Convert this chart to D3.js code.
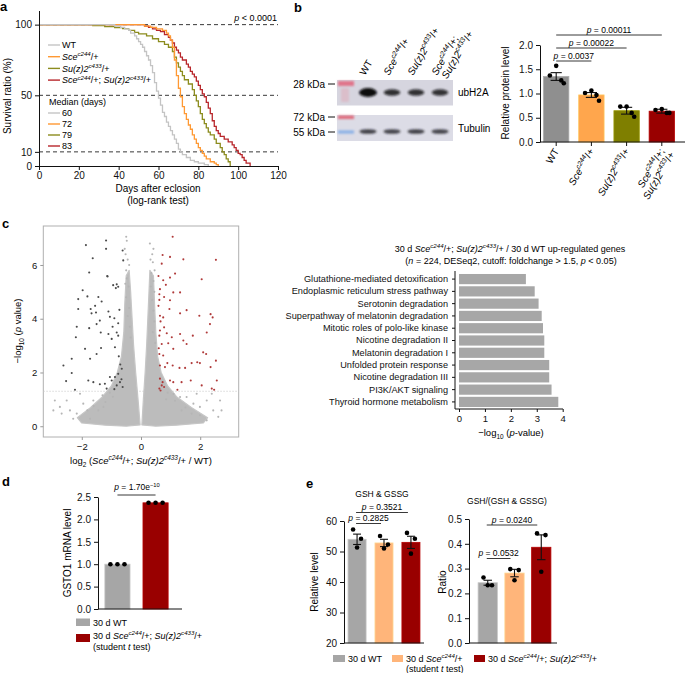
<!DOCTYPE html>
<html>
<head>
<meta charset="utf-8">
<script src="https://cdnjs.cloudflare.com/ajax/libs/d3/7.8.5/d3.min.js"></script>
<style>
body { margin: 0; background: #fff; }
svg { font-family: "Liberation Sans", Arial, Helvetica, sans-serif; }
</style>
</head>
<body>
<svg id="fig" width="685" height="673"></svg>
<script>
// ---- data ----
var SCE = [['Sce', 'i'], ['c244', 'isup'], ['/+']],
    SU = [['Su(z)2', 'i'], ['c433', 'isup'], ['/+']],
    SCESU = [['Sce', 'i'], ['c244', 'isup'], ['/+; '], ['Su(z)2', 'i'], ['c433', 'isup'], ['/+']];

var survivalWT = [[0,100],[38,99],[41,98],[43,97],[45,96],[46,94],[48,92],[49,90],[50,88],[51,86],[52,84],[53,81],[54,78],[55,75],[56,71],[57,66],[58,59],[59,53],[60,48],[61,43],[62,38],[63,35],[64,31],[65,28],[66,25],[67,22],[68,19],[69,16],[70,12],[71,10],[72,8],[74,6],[76,4],[78,3],[80,2],[83,1],[85,0]];
var survivalSce = [[0,100],[53,99],[56,98],[59,97],[62,96],[64,94],[65,92],[66,89],[67,84],[68,75],[69,64],[70,55],[71,49],[72,42],[73,37],[74,33],[75,29],[76,26],[77,22],[78,19],[79,16],[80,13],[81,11],[82,9],[83,7],[84,5],[86,3],[88,2],[89,1],[90,0]];
var survivalSu = [[0,100],[27,99.3],[33,98.6],[38,97.9],[42,97.2],[45,96],[48,94.5],[50,93.5],[54,92],[57,90],[60,88],[63,86],[65,84],[67,81],[68,77],[69,73],[70,70],[71,67],[72,64],[73,61],[75,58],[77,54],[78,50],[79,46],[80,42],[81,37],[82,33],[83,30],[84,27],[85,24],[86,22],[88,19],[89,16],[91,13],[92,10],[93,8],[94,5],[95,3],[96,0]];
var survivalSceSu = [[0,100],[53,99],[55,98],[57,97],[59,96],[61,95],[63,93],[65,91],[66,89],[67,87],[68,84],[69,82],[70,80],[71,77],[72,75],[74,72],[75,70],[76,67],[77,65],[78,63],[79,60],[80,57],[81,54],[82,51],[83,49],[84,45],[85,41],[86,37],[87,32],[88,28],[89,25],[90,23],[91,21],[93,19],[95,17],[97,15],[98,13],[99,11],[100,9],[101,8],[102,6],[103,4],[104,2],[106,0]];
var survivalMedians = [60, 72, 79, 83];
var survivalRefLines = [100, 50, 10];

var blotLanes = ['WT', 'Sce', 'Su', 'SceSu'];
var ubh2aSignal = [1.0, 0.62, 0.6, 0.58];
var tubulinSignal = [0.8, 0.78, 0.8, 0.78];

var proteinMeans = [1.35, 0.97, 0.645, 0.635];
var proteinSem = [0.08, 0.05, 0.07, 0.04];
var proteinPoints = [[1.57, 1.37, 1.27, 1.21], [1.06, 1.01, 0.97, 0.85], [0.73, 0.73, 0.60, 0.52], [0.68, 0.66, 0.60, 0.60]];
var proteinPvals = [['0.0037', 1], ['0.00022', 2], ['0.00011', 3]];

var volcanoDown = [[-1.86,6.74],[-1.18,6.91],[-1.18,6.60],[-1.63,6.25],[-0.62,6.54],[-0.6,6.17],[-1.13,5.57],[-1.75,5.72],[-1.97,5.06],[-1.81,4.83],[-0.94,5.25],[-1.14,5.59],[-0.82,5.28],[-0.77,5.19],[-0.85,5.14],[-2.12,4.73],[-1.44,4.81],[-1.33,4.64],[-1.55,4.48],[-2.12,4.36],[-1.70,4.36],[-1.52,4.23],[-1.10,4.27],[-0.73,4.33],[-0.90,4.02],[-1.05,4.07],[-1.39,3.93],[-1.67,4.20],[-2.17,3.70],[-1.75,3.65],[-1.50,3.80],[-1.36,3.49],[-0.96,3.70],[-0.77,3.83],[-0.82,3.49],[-0.77,3.37],[-0.99,3.25],[-1.10,3.43],[-0.88,2.94],[-1.35,2.91],[-1.50,2.69],[-1.72,2.51],[-1.89,2.88],[-2.20,3.31],[-2.34,2.51],[-2.62,2.26],[-2.34,1.98],[-2.53,1.68],[-2.23,1.36],[-1.78,1.70],[-1.61,1.64],[-1.39,1.56],[-1.22,1.58],[-1.16,1.40],[-0.99,1.70],[-0.88,1.83],[-0.77,1.95],[-0.71,1.64],[-0.65,2.14],[-0.62,1.46],[-0.82,1.52],[-1.05,1.83],[-0.7,2.3],[-0.75,2.6],[-0.66,1.75],[-0.9,1.38]];
var volcanoUp = [[1.07,7.05],[0.73,6.37],[0.98,6.30],[1.43,6.21],[0.70,6.05],[2.53,6.19],[0.59,5.59],[0.75,5.43],[0.98,5.53],[1.15,5.68],[0.84,5.26],[0.64,5.10],[2.05,5.47],[1.09,4.98],[0.62,4.91],[0.78,4.81],[1.32,4.98],[0.59,4.48],[0.98,4.69],[0.64,4.11],[0.75,4.05],[0.96,4.36],[1.32,4.20],[1.54,4.32],[1.97,4.11],[2.35,4.17],[2.42,4.05],[0.64,3.56],[0.62,3.37],[0.78,3.68],[0.87,3.46],[1.04,3.31],[1.32,3.43],[1.43,3.19],[1.75,3.37],[2.22,3.49],[2.33,3.80],[0.70,3.06],[0.92,3.09],[0.62,2.69],[0.75,2.63],[1.09,2.88],[1.54,3.06],[2.10,2.75],[2.20,2.69],[2.53,2.44],[0.64,2.26],[0.81,2.20],[0.89,2.35],[1.07,2.26],[1.30,2.17],[1.49,2.17],[1.71,2.35],[1.90,2.38],[1.99,2.35],[2.35,2.20],[2.56,1.70],[0.64,1.77],[0.73,1.64],[0.70,1.52],[0.78,1.46],[0.98,1.70],[1.09,1.64],[1.23,1.36],[1.37,1.64],[1.68,1.70],[2.05,1.52],[2.39,1.40],[2.47,1.36],[0.62,1.40],[0.66,1.33],[0.6,2.9],[0.66,3.9],[0.62,4.7]];
var volcanoFlat = [[-0.5,7.05],[-0.48,6.9],[-0.55,6.6],[-0.45,6.2],[-0.5,5.8],[-0.48,5.5],[-0.42,5.2],[-0.5,4.8],[-0.4,4.4],[-0.45,4.1],[-0.38,3.7],[-0.35,3.3],[-0.52,6.4],[-0.4,6.0],[-0.53,5.3],[0.3,6.8],[0.42,6.6],[0.38,6.4],[0.4,6.1],[0.35,5.7],[0.42,5.4],[0.45,5.0],[0.38,4.7],[0.42,4.3],[0.45,3.9],[0.4,3.5],[0.48,3.1],[0.32,6.2],[0.46,5.8],[0.33,5.2],[-2.91,0.96],[-2.96,0.59],[-2.74,0.72],[-2.51,0.96],[-2.40,0.59],[-2.68,0.47],[-2.06,1.21],[-1.95,0.84],[-2.17,0.47],[-1.81,0.59],[-1.61,0.96],[-1.44,0.59],[-1.27,0.72],[-1.72,0.28],[-2.29,0.28],[1.54,1.09],[1.77,0.84],[1.99,0.72],[2.22,0.96],[2.44,0.59],[2.67,0.96],[2.72,0.59],[2.61,0.35],[1.99,0.41],[1.71,0.47],[2.22,0.22],[1.37,0.59],[1.88,1.21],[1.32,1.09],[2.39,1.21],[-1.3,1.15],[-1.05,1.25],[1.1,1.2],[0.9,1.25],[-0.95,1.1],[-1.2,0.9],[-1.6,0.75],[0.85,1.0],[1.15,0.95],[1.5,0.7]];
var volcanoCoreLeft = [[-0.03,0.05],[-0.1,1.0],[-0.18,2.0],[-0.25,3.0],[-0.3,4.0],[-0.35,5.0],[-0.4,5.8],[-0.5,5.6],[-0.55,4.5],[-0.58,3.5],[-0.66,2.6],[-0.8,2.0],[-1.0,1.5],[-1.3,1.1],[-1.7,0.7],[-2.15,0.32],[-2.0,0.12],[-1.2,0.04],[-0.5,0.0]];
var volcanoCoreRight = [[0.03,0.05],[0.08,1.0],[0.14,2.0],[0.19,3.0],[0.23,4.0],[0.27,5.0],[0.3,5.8],[0.42,5.6],[0.46,4.5],[0.5,3.5],[0.56,2.6],[0.68,2.0],[0.9,1.5],[1.2,1.1],[1.7,0.7],[2.25,0.32],[2.1,0.12],[1.2,0.04],[0.5,0.0]];
var volcanoCutoff = -Math.log10(0.05);

var pathways = ['Glutathione-mediated detoxification', 'Endoplasmic reticulum stress pathway', 'Serotonin degradation',
    'Superpathway of melatonin degradation', 'Mitotic roles of polo-like kinase', 'Nicotine degradation II',
    'Melatonin degradation I', 'Unfolded protein response', 'Nicotine degradation III', 'PI3K/AKT signaling',
    'Thyroid hormone metabolism'];
var pathwayLogP = [2.58, 2.92, 3.07, 3.19, 3.24, 3.29, 3.29, 3.48, 3.48, 3.57, 3.83];

var gsto1Means = [1.0, 2.37];
var gsto1Points = [[1.0, 1.0, 1.0], [2.37, 2.37, 2.37]];

var gshMeans = [54.0, 52.8, 53.0];
var gshSem = [1.7, 1.2, 2.0];
var gshPoints = [[57.2, 54.2, 51.3], [55.1, 52.3, 51.0], [56.1, 54.2, 49.3]];
var gshPvals = [['0.2825', 1], ['0.3521', 2]];

var ratioMeans = [0.243, 0.282, 0.386];
var ratioSem = [0.01, 0.015, 0.05];
var ratioPoints = [[0.264, 0.233, 0.233], [0.298, 0.294, 0.253], [0.442, 0.435, 0.287]];
var ratioPvals = [['0.0532', 1], ['0.0240', 2]];

var curveColors = {WT: '#c4c4c4', Sce: '#ff9933', Su: '#8c8c1e', SceSu: '#b8262b'};
var barColors = {WT: '#8f8f8f', Sce: '#ffa64d', Su: '#7f7f00', SceSu: '#990000'};

var svg = d3.select('#fig');

//helpers
function rich(sel, parts, fs) {
    var shift = 0;
    parts.forEach(function (p) {
        var st = p[1] || '',
            ts = sel.append('tspan').text(p[0]),
            target = 0;
        if (st.charAt(0) === 'i') {
            ts.style('font-style', 'italic');
        }
        if (st.indexOf('sup') >= 0) {
            ts.attr('font-size', fs * 0.68);
            target = -fs * 0.4;
        }
        if (st.indexOf('sub') >= 0) {
            ts.attr('font-size', fs * 0.68);
            target = fs * 0.28;
        }
        if (target !== shift) {
            ts.attr('dy', target - shift);
            shift = target;
        }
    });
    return sel;
}

function label(x, y, parts, fs, anchor) {
    var t = svg.append('text').attr('x', x).attr('y', y)
        .attr('font-size', fs).attr('text-anchor', anchor || 'start');
    if (typeof parts === 'string') {
        return t.text(parts);
    }
    return rich(t, parts, fs);
}

function panelLetter(x, y, s) {
    svg.append('text').attr('x', x).attr('y', y).attr('font-size', 13)
        .attr('font-weight', 'bold').text(s);
}

function styleAxis(g, fs) {
    g.selectAll('text').attr('font-size', fs).attr('font-family', null).attr('fill', '#111');
    g.selectAll('line,path').attr('stroke', '#111');
}

function sigBar(x1, x2, y, p, fs) {
    svg.append('line').attr('x1', x1).attr('x2', x2).attr('y1', y).attr('y2', y)
        .attr('stroke', '#222').attr('stroke-width', 0.9);
    label((x1 + x2) / 2, y - 2.5, [['p', 'i'], [' = ' + p]], fs, 'middle');
}

// rotated multi-line genotype labels
function rotLabel(x, y, lines, fs, anchor) {
    var t = svg.append('text').attr('font-size', fs).attr('text-anchor', anchor)
        .attr('transform', 'translate(' + x + ',' + y + ') rotate(-60)');
    lines.forEach(function (ln, k) {
        var part = typeof ln === 'string' ? [[ln]] : ln,
            row = t.append('tspan').attr('x', k * 2).attr('y', k * fs * 1.05);
        rich(row, part, fs);
    });
}

// bar + dots + sem chart used by b, d, e
function barChart(o) {
    var x = d3.scaleBand().domain(d3.range(o.means.length)).range(o.xRange)
            .paddingInner(o.padIn).paddingOuter(o.padOut),
        y = d3.scaleLinear().domain(o.yDomain).range(o.yRange),
        g = svg.append('g'),
        jitter = o.points[0].length === 4 ? [0, -0.25, 0.2, 0.3] : [-0.22, 0.22, 0],
        ax;

    g.selectAll('rect.bar').data(o.means).enter().append('rect')
        .attr('x', function (d, i) { return x(i); })
        .attr('y', function (d) { return y(d); })
        .attr('width', x.bandwidth())
        .attr('height', function (d) { return y(o.yDomain[0]) - y(d); })
        .attr('fill', function (d, i) { return o.colors[i]; })
        .attr('stroke', function (d, i) { return d3.color(o.colors[i]).brighter(0.5); })
        .attr('stroke-width', 0.8);

    if (o.sem) {
        o.sem.forEach(function (s, i) {
            var cx = x(i) + x.bandwidth() / 2, hw = x.bandwidth() * 0.22;
            g.append('line').attr('x1', cx).attr('x2', cx)
                .attr('y1', y(o.means[i] - s)).attr('y2', y(o.means[i] + s))
                .attr('stroke', '#111').attr('stroke-width', 1.1);
            [o.means[i] - s, o.means[i] + s].forEach(function (v) {
                g.append('line').attr('x1', cx - hw).attr('x2', cx + hw)
                    .attr('y1', y(v)).attr('y2', y(v)).attr('stroke', '#111').attr('stroke-width', 1.1);
            });
        });
    }

    o.points.forEach(function (pts, i) {
        g.selectAll(null).data(pts).enter().append('circle')
            .attr('cx', function (d, j) {
                var off = o.sem ? jitter[j] : (j - 1) * 0.28;
                return x(i) + x.bandwidth() * (0.5 + off);
            })
            .attr('cy', function (d) { return y(d); })
            .attr('r', 2.3).attr('fill', '#000');
    });

    ax = g.append('g').attr('transform', 'translate(' + o.xRange[0] + ',0)')
        .call(d3.axisLeft(y).tickValues(o.ticks).tickFormat(d3.format(o.fmt)).tickSize(4).tickSizeOuter(0));
    styleAxis(ax, o.fs);
    g.append('line').attr('x1', o.xRange[0]).attr('x2', o.axisEnd)
        .attr('y1', y(o.yDomain[0])).attr('y2', y(o.yDomain[0])).attr('stroke', '#111');
    if (o.xTicks) {
        d3.range(o.means.length).forEach(function (i) {
            var cx = x(i) + x.bandwidth() / 2;
            g.append('line').attr('x1', cx).attr('x2', cx).attr('y1', y(o.yDomain[0]))
                .attr('y2', y(o.yDomain[0]) + 4).attr('stroke', '#111');
        });
    }
    return {x: function (i) { return x(i) + x.bandwidth() / 2; }, y: y};
}

// ---- a: survival ----
(function () {
    var x = d3.scaleLinear().domain([0, 120]).range([39, 278]),
        y = d3.scaleLinear().domain([0, 110]).range([166, 10.5]),
        line = d3.line().x(function (d) { return x(d[0]); }).y(function (d) { return y(d[1]); }).curve(d3.curveStepAfter),
        series = [['SceSu', survivalSceSu], ['Su', survivalSu], ['Sce', survivalSce], ['WT', survivalWT]],
        legendNames = [['WT', 'WT'], ['Sce', SCE], ['Su', SU], ['SceSu', SCESU]],
        ax;

    panelLetter(0, 11, 'a');

    survivalRefLines.forEach(function (v) {
        svg.append('line').attr('x1', x(0)).attr('x2', x(120)).attr('y1', y(v)).attr('y2', y(v))
            .attr('stroke', '#222').attr('stroke-dasharray', '4,3').attr('stroke-width', 0.9);
    });
    series.forEach(function (s) {
        svg.append('path').attr('d', line(s[1])).attr('fill', 'none')
            .attr('stroke', curveColors[s[0]]).attr('stroke-width', 1.3);
    });

    ax = svg.append('g').attr('transform', 'translate(0,166)')
        .call(d3.axisBottom(x).tickValues(d3.range(0, 121, 20)).tickSize(4).tickPadding(2).tickSizeOuter(0));
    styleAxis(ax, 10);
    ax = svg.append('g').attr('transform', 'translate(39,0)')
        .call(d3.axisLeft(y).tickValues([0, 10, 50, 100]).tickSize(4).tickSizeOuter(0));
    styleAxis(ax, 10);

    label(277, 21, [['p', 'i'], [' < 0.0001']], 9, 'end');
    label(158, 192, 'Days after eclosion', 10, 'middle');
    label(158, 204, '(log-rank test)', 10, 'middle');
    svg.append('text').attr('transform', 'translate(11,96) rotate(-90)')
        .attr('text-anchor', 'middle').attr('font-size', 10).text('Survival ratio (%)');

    legendNames.forEach(function (n, i) {
        var ly = 45 + i * 11.7;
        svg.append('line').attr('x1', 48).attr('x2', 60).attr('y1', ly).attr('y2', ly)
            .attr('stroke', curveColors[n[0]]).attr('stroke-width', 1.4);
        label(62, ly + 3.3, n[1], 9);
    });
    label(49, 105, 'Median (days)', 9);
    survivalMedians.forEach(function (m, i) {
        var ly = 113 + i * 11;
        svg.append('line').attr('x1', 48).attr('x2', 60).attr('y1', ly).attr('y2', ly)
            .attr('stroke', curveColors[legendNames[i][0]]).attr('stroke-width', 1.4);
        label(62, ly + 3.3, String(m), 9);
    });
}());

// ---- b: western blot ----
(function () {
    var lane = d3.scalePoint().domain(blotLanes).range([368, 440]),
        defs = svg.append('defs'),
        laneNames = [['WT'], [SCE], [SU], [[['Sce', 'i'], ['c244', 'isup'], ['/+;']], SU]];

    defs.append('filter').attr('id', 'blur').attr('x', '-50%').attr('y', '-100%').attr('width', '200%').attr('height', '300%')
        .append('feGaussianBlur').attr('stdDeviation', 1.3);

    panelLetter(294, 12, 'b');

    svg.append('rect').attr('x', 337).attr('y', 80).attr('width', 116).attr('height', 25.5).attr('fill', '#d6d5df');
    svg.append('rect').attr('x', 337).attr('y', 115).attr('width', 116).attr('height', 26).attr('fill', '#dcdce6');
    svg.append('rect').attr('x', 338).attr('y', 81).attr('width', 16).attr('height', 5).attr('fill', '#e0758a').attr('filter', 'url(#blur)');
    svg.append('rect').attr('x', 341).attr('y', 88).attr('width', 8).attr('height', 14).attr('fill', '#e0a8b6').attr('opacity', 0.5).attr('filter', 'url(#blur)');
    svg.append('rect').attr('x', 338).attr('y', 115.5).attr('width', 16).attr('height', 3.5).attr('fill', '#e06a7c').attr('filter', 'url(#blur)');
    svg.append('rect').attr('x', 338).attr('y', 130.5).attr('width', 16).attr('height', 3).attr('fill', '#86aee6').attr('filter', 'url(#blur)');

    blotLanes.forEach(function (l, i) {
        var s = ubh2aSignal[i];
        svg.append('ellipse').attr('cx', lane(l)).attr('cy', 92.5)
            .attr('rx', 7 + s * 2).attr('ry', 1.6 + s * 2.8)
            .attr('fill', '#0b0b10').attr('opacity', 0.55 + s * 0.45).attr('filter', 'url(#blur)');
        svg.append('ellipse').attr('cx', lane(l)).attr('cy', 131.5)
            .attr('rx', 8.5).attr('ry', 2.3)
            .attr('fill', '#1a1a22').attr('opacity', tubulinSignal[i]).attr('filter', 'url(#blur)');
    });

    [['28 kDa', 84], ['72 kDa', 117], ['55 kDa', 132]].forEach(function (m) {
        label(325, m[1] + 3.5, m[0], 10, 'end');
        svg.append('line').attr('x1', 328).attr('x2', 335).attr('y1', m[1]).attr('y2', m[1]).attr('stroke', '#111');
    });
    label(458, 96, 'ubH2A', 10);
    label(458, 132, 'Tubulin', 10);

    blotLanes.forEach(function (l, i) {
        rotLabel(lane(l) - 3, 76, laneNames[i], 10, 'start');
    });
}());

// ---- b: protein level bars ----
(function () {
    var c = barChart({
        means: proteinMeans, sem: proteinSem, points: proteinPoints,
        colors: blotLanes.map(function (l) { return barColors[l]; }),
        xRange: [540, 678], padIn: 0.28, padOut: 0.1, axisEnd: 685,
        yDomain: [0, 2], yRange: [142, 45], ticks: [0, 0.5, 1, 1.5, 2], fmt: '.1f', fs: 10, xTicks: true
    }),
        names = [['WT'], [SCE], [SU], [[['Sce', 'i'], ['c244', 'isup'], ['/+;']], SU]];

    proteinPvals.forEach(function (p, k) {
        sigBar(c.x(0), c.x(p[1]), 61 - k * 13, p[0], 8.5);
    });
    svg.append('text').attr('transform', 'translate(509,93) rotate(-90)')
        .attr('text-anchor', 'middle').attr('font-size', 10).text('Relative protein level');

    names.forEach(function (n, i) {
        rotLabel(c.x(i) + 3, 151, n, 10, 'end');
    });
}());

// ---- c: volcano ----
(function () {
    var x = d3.scaleLinear().domain([-3.3, 3.3]).range([43.3, 238.7]),
        y = d3.scaleLinear().domain([-0.4, 7.45]).range([437, 226]),
        area = d3.line().x(function (d) { return x(d[0]); }).y(function (d) { return y(d[1]); }).curve(d3.curveLinearClosed),
        ax;

    panelLetter(2, 228, 'c');

    svg.append('rect').attr('x', 43.3).attr('y', 226).attr('width', 195.4).attr('height', 211)
        .attr('fill', 'none').attr('stroke', '#b0b0b0');
    svg.append('line').attr('x1', 43.3).attr('x2', 238.7).attr('y1', y(volcanoCutoff)).attr('y2', y(volcanoCutoff))
        .attr('stroke', '#c8c8c8').attr('stroke-dasharray', '1.5,1.5').attr('stroke-width', 0.7);

    [volcanoCoreLeft, volcanoCoreRight].forEach(function (poly) {
        svg.append('path').attr('d', area(poly)).attr('fill', '#bcbcbc')
            .attr('stroke', '#c6c6c6').attr('stroke-width', 1.2).attr('stroke-linejoin', 'round');
    });
    [[volcanoFlat, '#b5b5b5'], [volcanoDown, '#4a4a4a'], [volcanoUp, '#b03a3a']].forEach(function (s) {
        svg.append('g').selectAll('circle').data(s[0]).enter().append('circle')
            .attr('cx', function (d) { return x(d[0]); })
            .attr('cy', function (d) { return y(d[1]); })
            .attr('r', 1.05).attr('fill', s[1]);
    });

    ax = svg.append('g').attr('transform', 'translate(0,437)')
        .call(d3.axisBottom(x).tickValues([-2, 0, 2]).tickFormat(d3.format('d')).tickSize(3).tickSizeOuter(0));
    styleAxis(ax, 9.5);
    ax.select('.domain').remove();
    ax.selectAll('line').attr('stroke', '#999');
    ax = svg.append('g').attr('transform', 'translate(43.3,0)')
        .call(d3.axisLeft(y).tickValues([0, 2, 4, 6]).tickSize(3).tickSizeOuter(0));
    styleAxis(ax, 9.5);
    ax.select('.domain').remove();
    ax.selectAll('line').attr('stroke', '#999');

    label(141, 464, [['log'], ['2', 'sub'], [' ('], ['Sce', 'i'], ['c244', 'isup'], ['/+; '], ['Su(z)2', 'i'], ['c433', 'isup'], ['/+ / WT)']], 9.5, 'middle');
    rich(svg.append('text').attr('transform', 'translate(21,331) rotate(-90)')
        .attr('text-anchor', 'middle').attr('font-size', 9.5),
        [['\u2212log'], ['10', 'sub'], [' ('], ['p', 'i'], [' value)']], 9.5);
}());

// ---- c: pathways ----
(function () {
    var y = d3.scaleBand().domain(pathways).range([273, 408]).paddingInner(0.17).paddingOuter(0.08),
        x = d3.scaleLinear().domain([0, 4]).range([459, 562.7]),
        ax;

    label(510, 252, [['30 d '], ['Sce', 'i'], ['c244', 'isup'], ['/+; '], ['Su(z)2', 'i'], ['c433', 'isup'], ['/+ / 30 d WT up-regulated genes']], 9, 'middle');
    label(511, 264, [['('], ['n', 'i'], [' = 224, DESeq2, cutoff: foldchange > 1.5, '], ['p', 'i'], [' < 0.05)']], 9, 'middle');

    svg.append('g').selectAll('rect').data(pathways).enter().append('rect')
        .attr('x', x(0)).attr('y', function (d) { return y(d); })
        .attr('width', function (d, i) { return x(pathwayLogP[i]) - x(0); })
        .attr('height', y.bandwidth()).attr('fill', '#a7a7a7');

    ax = svg.append('g').attr('transform', 'translate(455,0)')
        .call(d3.axisLeft(y).tickSize(3).tickSizeOuter(0).tickPadding(4));
    styleAxis(ax, 9.2);
    ax.select('.domain').attr('d', 'M0,271V409');
    ax = svg.append('g').attr('transform', 'translate(0,409)')
        .call(d3.axisBottom(x).ticks(4).tickSize(3).tickSizeOuter(0));
    styleAxis(ax, 9.5);
    ax.select('.domain').attr('d', 'M455,0H563');

    label(511, 436, [['\u2212log'], ['10', 'sub'], [' ('], ['p', 'i'], ['-value)']], 9.5, 'middle');
}());

// ---- d: GSTO1 ----
(function () {
    var c = barChart({
        means: gsto1Means, sem: null, points: gsto1Points,
        colors: ['#a6a6a6', barColors.SceSu],
        xRange: [98, 175], padIn: 0.34, padOut: 0.18, axisEnd: 182,
        yDomain: [0, 2.5], yRange: [609, 497], ticks: [0, 0.5, 1, 1.5, 2, 2.5], fmt: '.1f', fs: 10
    });

    panelLetter(2, 486, 'd');
    svg.append('line').attr('x1', c.x(0)).attr('x2', c.x(1)).attr('y1', 495).attr('y2', 495)
        .attr('stroke', '#222').attr('stroke-width', 0.9);
    label(137, 490, [['p', 'i'], [' = 1.70e'], ['\u221210', 'sup']], 8.5, 'middle');
    svg.append('text').attr('transform', 'translate(71,553) rotate(-90)')
        .attr('text-anchor', 'middle').attr('font-size', 10).text('GSTO1 mRNA level');

    svg.append('rect').attr('x', 76).attr('y', 618.5).attr('width', 14).attr('height', 7.5).attr('fill', '#a6a6a6');
    label(93, 625.5, '30 d WT', 9);
    svg.append('rect').attr('x', 76).attr('y', 634).attr('width', 14).attr('height', 8).attr('fill', barColors.SceSu);
    label(93, 639, [['30 d '], ['Sce', 'i'], ['c244', 'isup'], ['/+; '], ['Su(z)2', 'i'], ['c433', 'isup'], ['/+']], 9);
    label(93, 650, [['(student '], ['t', 'i'], [' test)']], 9);
}());

// ---- e: glutathione ----
(function () {
    var cols = ['#a6a6a6', '#ffb57a', barColors.SceSu],
        left = barChart({
            means: gshMeans, sem: gshSem, points: gshPoints, colors: cols,
            xRange: [344, 424], padIn: 0.33, padOut: 0.15, axisEnd: 424,
            yDomain: [20, 60], yRange: [643, 521], ticks: [20, 30, 40, 50, 60], fmt: 'd', fs: 10
        }),
        right = barChart({
            means: ratioMeans, sem: ratioSem, points: ratioPoints, colors: cols,
            xRange: [469, 560], padIn: 0.28, padOut: 0.34, axisEnd: 557,
            yDomain: [0, 0.5], yRange: [643, 519], ticks: [0, 0.1, 0.2, 0.3, 0.4, 0.5], fmt: '.1f', fs: 10
        });

    panelLetter(306, 488, 'e');
    label(382, 497, 'GSH & GSSG', 8.5, 'middle');
    label(507, 504, 'GSH/(GSH & GSSG)', 8.5, 'middle');

    gshPvals.forEach(function (p, k) {
        sigBar(left.x(0) - 1, left.x(p[1]) - 3, 523.5 - k * 11, p[0], 8.5);
    });
    ratioPvals.forEach(function (p, k) {
        sigBar(right.x(0) - 1, right.x(p[1]) - 4, 558.5 - k * 33.5, p[0], 8.5);
    });

    svg.append('text').attr('transform', 'translate(318,582) rotate(-90)')
        .attr('text-anchor', 'middle').attr('font-size', 10).text('Relative level');
    svg.append('text').attr('transform', 'translate(446,582) rotate(-90)')
        .attr('text-anchor', 'middle').attr('font-size', 10).text('Ratio');

    svg.append('rect').attr('x', 333).attr('y', 655).attr('width', 12).attr('height', 7).attr('fill', cols[0]);
    label(348, 662, '30 d WT', 9);
    svg.append('rect').attr('x', 392).attr('y', 655).attr('width', 11).attr('height', 7).attr('fill', cols[1]);
    label(406, 662, [['30 d '], ['Sce', 'i'], ['c244', 'isup'], ['/+']], 9);
    label(406, 672, [['(student '], ['t', 'i'], [' test)']], 9);
    svg.append('rect').attr('x', 474).attr('y', 655).attr('width', 11).attr('height', 7).attr('fill', cols[2]);
    label(488, 662, [['30 d '], ['Sce', 'i'], ['c244', 'isup'], ['/+; '], ['Su(z)2', 'i'], ['c433', 'isup'], ['/+']], 9);
}());
</script>
</body>
</html>
